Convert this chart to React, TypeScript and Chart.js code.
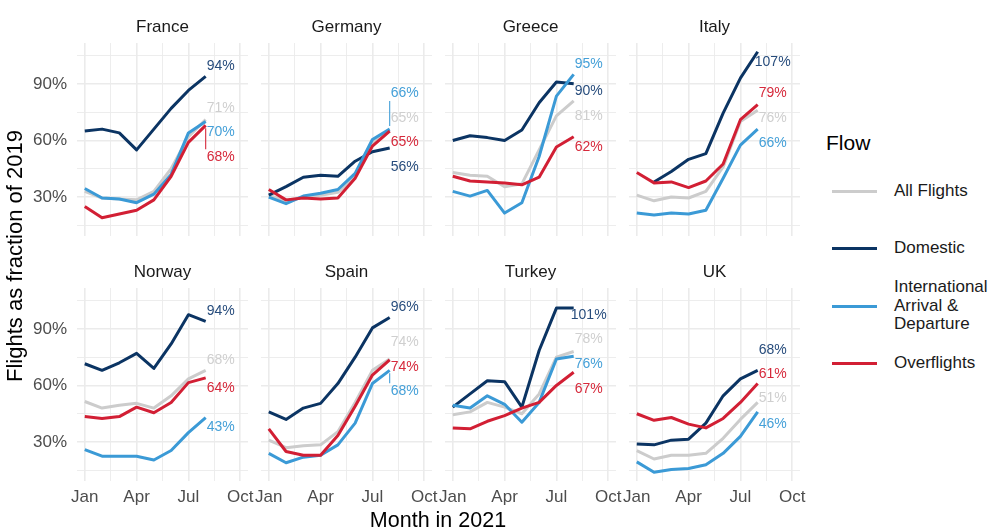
import React, { useEffect, useRef } from "react";
import { Chart, registerables } from "chart.js";

Chart.register(...registerables);

// ---------------- DATA ----------------
const months = ["Jan", "Feb", "Mar", "Apr", "May", "Jun", "Jul", "Aug"];
const xTickLabels = ["Jan", "Apr", "Jul", "Oct"]; // month index 0, 3, 6, 9
const yTickLabels = ["30%", "60%", "90%"];
const countries = ["France", "Germany", "Greece", "Italy", "Norway", "Spain", "Turkey", "UK"];
const flows = ["All Flights", "Domestic", "International Arrival & Departure", "Overflights"];
const legendLabels = [["All Flights"], ["Domestic"], ["International", "Arrival &", "Departure"], ["Overflights"]];

// values in % of 2019, one row per country (same order as `countries`)
const allFlights = [
  [33, 29.5, 29, 28.5, 33, 45, 62, 71],
  [31, 28, 30, 31, 32.5, 41, 59, 65],
  [43, 41.5, 41, 35.5, 37, 55, 73, 81],
  [31, 28, 30, 29.5, 33, 46, 70, 76],
  [51.5, 48, 49.5, 50.5, 48, 54.5, 63.5, 68],
  [31, 27, 28, 28.5, 35.5, 51, 68, 74],
  [44.5, 46, 51, 48.5, 45, 55.5, 75, 78],
  [25.5, 21, 23, 23, 24, 32, 42, 51],
];
const domestic: (number | null)[][] = [
  [65, 66, 64, 55, 66, 77, 86.5, 94],
  [31, 35.5, 40.5, 41.5, 41, 49, 54, 56],
  [60, 62.5, 61.5, 60, 65.5, 80, 91, 90],
  [null, 38, 43.5, 50, 53, 74.5, 93, 107],
  [71.5, 68, 72, 77, 69, 82, 97.5, 94],
  [46, 42, 48, 50.5, 61, 75, 90.5, 96],
  [48.5, 55.5, 62.5, 62, 48.5, 78.5, 101, 101],
  [29, 28.5, 31, 31.5, 40, 54.5, 63.5, 68],
];
const international = [
  [34.5, 29.5, 29, 27, 31.5, 42, 64, 70],
  [30, 26.5, 30.5, 32, 34, 42.5, 60.5, 66],
  [33, 30.5, 33.5, 21.5, 27, 51.5, 83.5, 95],
  [21.5, 20.5, 21.5, 21, 23, 40, 57.5, 66],
  [26, 22.5, 22.5, 22.5, 20.5, 25.5, 35, 43],
  [24, 19, 22, 23, 28.5, 40, 61, 68],
  [49.5, 48, 54.5, 50, 40.5, 51, 74, 75.5],
  [19.5, 14, 15.5, 16, 18, 24, 33, 46],
];
const overflights = [
  [25, 19, 21, 23, 28.5, 41, 59, 68],
  [34, 28.5, 29.5, 29, 29.5, 40, 57, 65],
  [41, 38.5, 38, 37.5, 36.5, 40.5, 56.5, 62],
  [43, 37.5, 38, 35, 38.5, 47.5, 71, 79],
  [43.5, 42.5, 43.5, 48.5, 45.5, 51, 61.5, 64],
  [37, 25, 23, 23, 33.5, 49, 65.5, 73.5],
  [37.5, 37, 41, 44, 48, 51, 60, 67],
  [45, 41.5, 43, 39.5, 37.5, 42.5, 51, 61],
];
const seriesByFlow = [allFlights, domestic, international, overflights];

// ---------------- STYLE ----------------
const FONT = "'Liberation Sans', Arial, Helvetica, sans-serif";
const lineColors = ["#cccccc", "#0b3463", "#3b9ad6", "#d21f34"];
const labelColors = ["#cfcfcf", "#274c7c", "#45a0d8", "#d6293b"];
const GRID = "#ebebeb";

const PANEL_W = 171;
const PANEL_H = 193;
const PANEL_X0 = 77;
const PANEL_DX = 184;
const PANEL_Y0 = 43;
const PANEL_DY = 245;
const STRIP = 28;
const YAXIS_W = 70;
const XAXIS_H = 34;
const SIDE = 10;

// y-range with 5% expansion around all data
const allVals: number[] = [];
seriesByFlow.forEach((f) => f.forEach((r) => r.forEach((v) => { if (v != null) allVals.push(v); })));
const vMin = Math.min(...allVals);
const vMax = Math.max(...allVals);
const yMin = vMin - (vMax - vMin) * 0.05;
const yMax = vMax + (vMax - vMin) * 0.05;
const xMin = -0.45;
const xMax = 9.45;

function layoutLabels(ps: number[], lo: number, hi: number): number[] {
  const G = 25, R = 12, K1 = 60, K2 = 6, SPAN = 70;
  const n = ps.length;
  const cands = ps.map((p) => {
    const arr: number[] = [];
    for (let d = -SPAN; d <= SPAN; d++) {
      const y = p + d;
      if (y >= lo && y <= hi) arr.push(y);
    }
    if (!arr.length) arr.push(Math.min(hi, Math.max(lo, p)));
    return arr;
  });
  const unary = (i: number, y: number) => {
    let c = (y - ps[i]) ** 2;
    for (const p of ps) {
      const d = Math.abs(y - p);
      if (d < R) c += K2 * (R - d) ** 2;
    }
    return c;
  };
  const pair = (a: number, b: number) => {
    const d = b - a;
    return d < G ? K1 * (G - d) ** 2 : 0;
  };
  let cost = cands[0].map((y) => unary(0, y));
  const back: number[][] = [];
  for (let i = 1; i < n; i++) {
    const nc: number[] = [];
    const bk: number[] = [];
    for (const y of cands[i]) {
      let best = Infinity, bj = 0;
      for (let j = 0; j < cands[i - 1].length; j++) {
        const c = cost[j] + pair(cands[i - 1][j], y);
        if (c < best) { best = c; bj = j; }
      }
      nc.push(best + unary(i, y));
      bk.push(bj);
    }
    cost = nc;
    back.push(bk);
  }
  let j = 0;
  for (let k = 1; k < cost.length; k++) if (cost[k] < cost[j]) j = k;
  const res = new Array(n);
  for (let i = n - 1; i >= 0; i--) {
    res[i] = cands[i][j];
    if (i > 0) j = back[i - 1][j];
  }
  return res;
}

const endLabelPlugin = {
  id: "endLabels",
  afterDatasetsDraw(chart: any) {
    const { ctx, chartArea } = chart;
    const xs = chart.scales.x;
    const ys = chart.scales.y;
    const items: any[] = [];
    chart.data.datasets.forEach((ds: any) => {
      const data = ds.data as { x: number; y: number | null }[];
      let last: any = null;
      for (const d of data) if (d.y != null) last = d;
      if (!last) return;
      items.push({
        px: xs.getPixelForValue(last.x),
        py: ys.getPixelForValue(last.y),
        text: Math.round(last.y) + "%",
        color: labelColors[ds.flowIndex],
        s: ds.flowIndex,
      });
    });
    items.sort((a, b) => a.py - b.py || a.s - b.s);
    const ly = layoutLabels(items.map((it) => it.py), chartArea.top + 16, chartArea.bottom - 16);
    ctx.save();
    ctx.font = `14px ${FONT}`;
    ctx.textAlign = "center";
    ctx.textBaseline = "middle";
    items.forEach((it, i) => {
      const cx = it.px + 15;
      const cy = ly[i];
      const w = ctx.measureText(it.text).width + 4;
      const h = 16;
      const bx = Math.max(cx - w / 2, Math.min(it.px, cx + w / 2));
      const by = Math.max(cy - h / 2, Math.min(it.py, cy + h / 2));
      const dist = Math.hypot(bx - it.px, by - it.py);
      if (dist > 12) {
        const ux = (bx - it.px) / dist, uy = (by - it.py) / dist;
        ctx.strokeStyle = it.color;
        ctx.lineWidth = 1.1;
        ctx.beginPath();
        ctx.moveTo(it.px + ux * 3, it.py + uy * 3);
        ctx.lineTo(bx, by);
        ctx.stroke();
      }
      ctx.fillStyle = it.color;
      ctx.fillText(it.text, cx, cy);
    });
    ctx.restore();
  },
};

const stripPlugin = {
  id: "strip",
  afterDraw(chart: any) {
    const { ctx, chartArea } = chart;
    ctx.save();
    ctx.font = `17px ${FONT}`;
    ctx.fillStyle = "#1a1a1a";
    ctx.textAlign = "center";
    ctx.textBaseline = "middle";
    ctx.fillText(chart.options.plugins.strip.text, (chartArea.left + chartArea.right) / 2, chartArea.top - 16);
    ctx.restore();
  },
};

function zeroPadding(s: any) {
  s.paddingTop = 0;
  s.paddingBottom = 0;
  s.paddingLeft = 0;
  s.paddingRight = 0;
}

function Panel({ idx }: { idx: number }) {
  const ref = useRef<HTMLCanvasElement>(null);
  const col = idx % 4;
  const row = Math.floor(idx / 4);
  const isLeft = col === 0;
  const isBottom = row === 1;
  const padL = isLeft ? YAXIS_W : SIDE;
  const padB = isBottom ? XAXIS_H : 0;
  const w = PANEL_W + padL + SIDE;
  const h = PANEL_H + STRIP + padB;

  useEffect(() => {
    const datasets = seriesByFlow.map((flow, fi) => ({
      label: flows[fi],
      flowIndex: fi,
      data: months.map((_, mi) => ({ x: mi, y: flow[idx][mi] })),
      borderColor: lineColors[fi],
      backgroundColor: lineColors[fi],
      borderWidth: 3,
      pointRadius: 0,
      tension: 0,
      spanGaps: false,
      order: 3 - fi,
      borderJoinStyle: "round" as const,
      borderCapStyle: "butt" as const,
    }));
    const xGrid = [0, 1.5, 3, 4.5, 6, 7.5, 9];
    const yGrid = [15, 30, 45, 60, 75, 90, 105];
    const chart = new Chart(ref.current!, {
      type: "line",
      data: { datasets } as any,
      plugins: [endLabelPlugin, stripPlugin],
      options: {
        animation: false,
        responsive: true,
        maintainAspectRatio: false,
        events: [],
        layout: { padding: { top: STRIP, left: 0, right: SIDE, bottom: 0 }, autoPadding: false } as any,
        plugins: {
          legend: { display: false },
          tooltip: { enabled: false },
          strip: { text: countries[idx] },
        } as any,
        scales: {
          x: {
            type: "linear",
            min: xMin,
            max: xMax,
            afterBuildTicks: (s: any) => { s.ticks = xGrid.map((v) => ({ value: v })); },
            afterFit: (s: any) => { s.height = padB; zeroPadding(s); },
            ticks: {
              display: isBottom,
              autoSkip: false,
              maxRotation: 0,
              minRotation: 0,
              padding: 6,
              color: "#4d4d4d",
              font: { family: FONT, size: 17 },
              callback: (v: any) => (Number(v) % 3 === 0 ? xTickLabels[Number(v) / 3] : ""),
            },
            grid: {
              color: GRID,
              drawTicks: false,
              lineWidth: (c: any) => (c.tick && c.tick.value % 3 === 0 ? 1.6 : 0.9),
            },
            border: { display: false },
          },
          y: {
            type: "linear",
            min: yMin,
            max: yMax,
            afterBuildTicks: (s: any) => { s.ticks = yGrid.map((v) => ({ value: v })); },
            afterFit: (s: any) => { s.width = padL; zeroPadding(s); },
            ticks: {
              display: isLeft,
              autoSkip: false,
              padding: 10,
              color: "#4d4d4d",
              font: { family: FONT, size: 17 },
              callback: (v: any) => (Number(v) % 30 === 0 ? yTickLabels[Number(v) / 30 - 1] : ""),
            },
            grid: {
              color: GRID,
              drawTicks: false,
              lineWidth: (c: any) => (c.tick && c.tick.value % 30 === 0 ? 1.6 : 0.9),
            },
            border: { display: false },
          },
        },
      } as any,
    });
    return () => chart.destroy();
  }, [idx]);

  return (
    <div
      style={{
        position: "absolute",
        left: PANEL_X0 + col * PANEL_DX - padL,
        top: PANEL_Y0 + row * PANEL_DY - STRIP,
        width: w,
        height: h,
      }}
    >
      <canvas ref={ref} />
    </div>
  );
}

export default function App() {
  const legendY = [191, 248, 306, 363];
  return (
    <div
      style={{
        position: "absolute",
        left: 0,
        top: 0,
        width: 1000,
        height: 530,
        background: "#ffffff",
        fontFamily: FONT,
        overflow: "hidden",
      }}
    >
      {countries.map((_, i) => (
        <Panel key={i} idx={i} />
      ))}
      <div
        style={{
          position: "absolute",
          left: 15 - 200,
          top: 256 - 13,
          width: 400,
          height: 26,
          lineHeight: "26px",
          textAlign: "center",
          fontSize: 22,
          color: "#000",
          transform: "rotate(-90deg)",
          whiteSpace: "nowrap",
        }}
      >
        Flights as fraction of 2019
      </div>
      <div
        style={{
          position: "absolute",
          left: 438 - 200,
          top: 520 - 13,
          width: 400,
          height: 26,
          lineHeight: "26px",
          textAlign: "center",
          fontSize: 21.5,
          color: "#000",
          whiteSpace: "nowrap",
        }}
      >
        Month in 2021
      </div>
      <div
        style={{
          position: "absolute",
          left: 826,
          top: 143 - 13,
          height: 26,
          lineHeight: "26px",
          fontSize: 21,
          color: "#000",
        }}
      >
        Flow
      </div>
      {legendLabels.map((lines, i) => (
        <React.Fragment key={i}>
          <div
            style={{
              position: "absolute",
              left: 832,
              top: legendY[i] - 1.5,
              width: 45,
              height: 3,
              background: lineColors[i],
            }}
          />
          <div
            style={{
              position: "absolute",
              left: 894,
              top: legendY[i] - (lines.length * 18.5) / 2,
              fontSize: 17,
              lineHeight: "18.5px",
              color: "#1a1a1a",
              whiteSpace: "nowrap",
            }}
          >
            {lines.map((l, k) => (
              <div key={k}>{l}</div>
            ))}
          </div>
        </React.Fragment>
      ))}
    </div>
  );
}
